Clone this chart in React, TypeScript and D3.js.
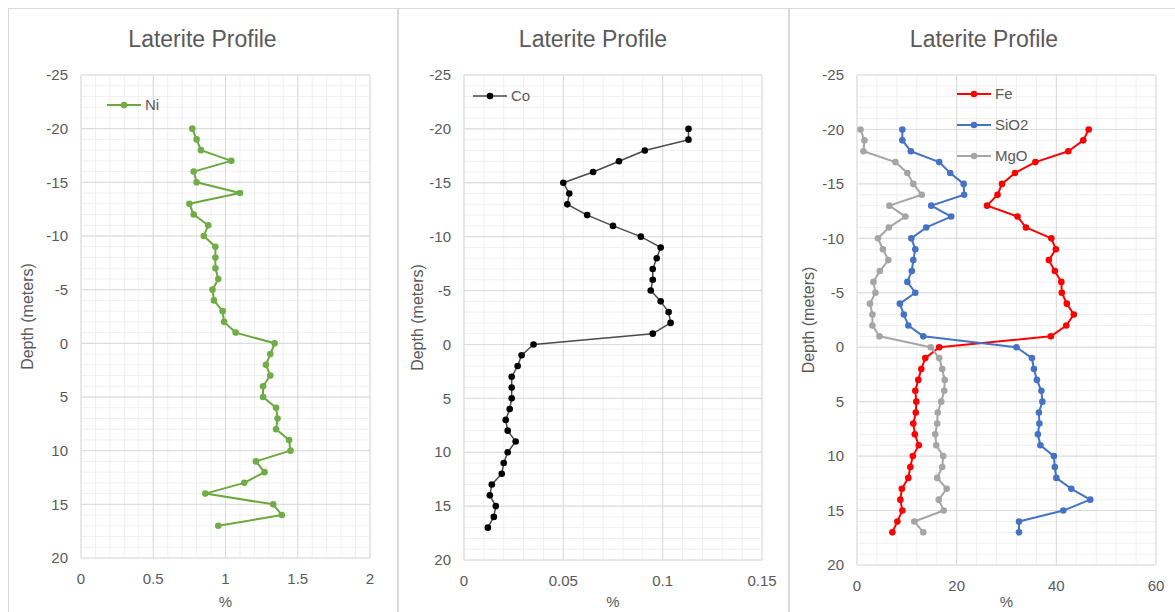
import React from "react";
import * as d3 from "d3";

// depth in meters (negative = above datum)
const depths = [-20, -19, -18, -17, -16, -15, -14, -13, -12, -11, -10, -9, -8, -7, -6, -5, -4, -3, -2, -1, 0, 1, 2, 3, 4, 5, 6, 7, 8, 9, 10, 11, 12, 13, 14, 15, 16, 17];

const ni = [0.77, 0.8, 0.83, 1.04, 0.78, 0.8, 1.1, 0.75, 0.78, 0.88, 0.85, 0.93, 0.93, 0.93, 0.95, 0.91, 0.92, 0.98, 0.99, 1.07, 1.34, 1.31, 1.28, 1.31, 1.26, 1.26, 1.35, 1.36, 1.35, 1.44, 1.45, 1.21, 1.27, 1.13, 0.86, 1.33, 1.39, 0.95];

const co = [0.113, 0.113, 0.091, 0.078, 0.065, 0.05, 0.053, 0.052, 0.062, 0.075, 0.089, 0.099, 0.097, 0.095, 0.095, 0.094, 0.099, 0.103, 0.104, 0.095, 0.035, 0.029, 0.027, 0.024, 0.024, 0.024, 0.023, 0.021, 0.022, 0.026, 0.022, 0.02, 0.019, 0.014, 0.013, 0.016, 0.015, 0.012];

const fe = [46.5, 45.4, 42.4, 35.8, 31.7, 29.1, 28.2, 26.1, 32.2, 33.9, 39.0, 39.9, 38.5, 39.7, 41.0, 41.1, 42.1, 43.5, 42.0, 38.9, 16.5, 13.7, 12.9, 12.3, 11.7, 11.9, 11.8, 11.3, 11.6, 12.4, 11.2, 10.7, 10.3, 9.0, 8.7, 9.1, 8.1, 7.1];
const sio2 = [9.1, 9.1, 10.8, 16.5, 18.7, 21.4, 21.5, 14.9, 18.9, 13.9, 10.9, 11.7, 11.3, 11.0, 10.1, 11.7, 8.6, 9.4, 10.3, 13.3, 32.0, 35.1, 35.5, 36.1, 37.0, 37.2, 36.5, 36.6, 36.3, 36.8, 39.5, 39.7, 40.0, 43.0, 46.8, 41.4, 32.5, 32.5];
const mgo = [0.7, 1.5, 1.3, 7.7, 10.1, 11.3, 13.0, 6.5, 9.7, 6.4, 4.2, 5.2, 6.3, 4.6, 3.3, 3.7, 2.6, 3.1, 3.1, 4.5, 14.8, 16.5, 17.1, 17.6, 17.5, 16.9, 16.2, 16.1, 15.7, 15.9, 17.3, 17.1, 16.1, 18.0, 16.4, 17.4, 11.5, 13.3];

const depthTicks = [-25, -20, -15, -10, -5, 0, 5, 10, 15, 20];

const FONT = "'Liberation Sans', Arial, sans-serif";
const TXT = "#595959";

type Series = { name: string; values: number[]; color: string; line: string; width: number };

type PanelCfg = {
  px: number; // panel left
  pw: number;
  left: number;
  right: number;
  top: number;
  bottom: number;
  xMax: number;
  xTicks: number[];
  xMinor: number;
  series: Series[];
  legendX: number;
  legendY: number;
  legendGap: number;
};

const panels: PanelCfg[] = [
  {
    px: 8, pw: 389, left: 81, right: 370, top: 75, bottom: 558,
    xMax: 2, xTicks: [0, 0.5, 1, 1.5, 2], xMinor: 0.1,
    series: [{ name: "Ni", values: ni, color: "#70ad47", line: "#6aa83e", width: 2 }],
    legendX: 107, legendY: 105, legendGap: 31,
  },
  {
    px: 398, pw: 390, left: 464, right: 762, top: 75, bottom: 560,
    xMax: 0.15, xTicks: [0, 0.05, 0.1, 0.15], xMinor: 0.01,
    series: [{ name: "Co", values: co, color: "#000000", line: "#4a4a4a", width: 1.5 }],
    legendX: 473, legendY: 96, legendGap: 31,
  },
  {
    px: 789, pw: 390, left: 857, right: 1156, top: 75, bottom: 565,
    xMax: 60, xTicks: [0, 20, 40, 60], xMinor: 4,
    series: [
      { name: "Fe", values: fe, color: "#ff0000", line: "#ff0000", width: 2 },
      { name: "SiO2", values: sio2, color: "#4472c4", line: "#4472c4", width: 2 },
      { name: "MgO", values: mgo, color: "#a5a5a5", line: "#a5a5a5", width: 2 },
    ],
    legendX: 957, legendY: 94, legendGap: 31,
  },
];

function Panel({ cfg }: { cfg: PanelCfg }) {
  const x = d3.scaleLinear().domain([0, cfg.xMax]).range([cfg.left, cfg.right]);
  const y = d3.scaleLinear().domain([-25, 20]).range([cfg.top, cfg.bottom]);
  const minorX = d3.range(0, cfg.xMax + 1e-9, cfg.xMinor);
  const minorY = d3.range(-25, 20.001, 1);
  const cx = cfg.px + cfg.pw / 2;
  const midX = (cfg.left + cfg.right) / 2;
  const midY = (cfg.top + cfg.bottom) / 2;

  return (
    <g>
      <rect x={cfg.px + 0.5} y={8.5} width={cfg.pw} height={620} fill="#fff" stroke="#d9d9d9" />
      <text x={cx} y={47} textAnchor="middle" fontSize={23} fill={TXT}>Laterite Profile</text>

      {minorX.map((v, i) => (
        <line key={"mx" + i} x1={x(v)} x2={x(v)} y1={cfg.top} y2={cfg.bottom} stroke="#f0f0f0" />
      ))}
      {minorY.map((v, i) => (
        <line key={"my" + i} x1={cfg.left} x2={cfg.right} y1={y(v)} y2={y(v)} stroke="#f0f0f0" />
      ))}
      {cfg.xTicks.map((v) => (
        <line key={"gx" + v} x1={x(v)} x2={x(v)} y1={cfg.top} y2={cfg.bottom} stroke="#d9d9d9" />
      ))}
      {depthTicks.map((v) => (
        <line key={"gy" + v} x1={cfg.left} x2={cfg.right} y1={y(v)} y2={y(v)} stroke="#d9d9d9" />
      ))}

      {depthTicks.map((v) => (
        <text key={"ty" + v} x={cfg.left - 13} y={y(v)} dy="0.35em" textAnchor="end" fontSize={15} fill={TXT}>
          {v}
        </text>
      ))}
      {cfg.xTicks.map((v) => (
        <text key={"tx" + v} x={x(v)} y={cfg.bottom + 21} dy="0.35em" textAnchor="middle" fontSize={15} fill={TXT}>
          {d3.format("~g")(v)}
        </text>
      ))}
      <text x={midX} y={Math.min(cfg.bottom + 45, 602)} dy="0.35em" textAnchor="middle" fontSize={15} fill={TXT}>%</text>
      <text
        transform={`translate(${cfg.px + 19},${midY}) rotate(-90)`}
        dy="0.35em"
        textAnchor="middle"
        fontSize={16}
        fill={TXT}
      >
        Depth (meters)
      </text>

      {cfg.series.map((s) => {
        const line = d3
          .line<number>()
          .x((v) => x(v))
          .y((_, i) => y(depths[i]));
        return (
          <g key={s.name}>
            <path d={line(s.values) ?? ""} fill="none" stroke={s.line} strokeWidth={s.width} strokeLinejoin="round" />
            {s.values.map((v, i) => (
              <circle key={i} cx={x(v)} cy={y(depths[i])} r={3.3} fill={s.color} />
            ))}
          </g>
        );
      })}

      {cfg.series.map((s, i) => {
        const ly = cfg.legendY + i * cfg.legendGap;
        return (
          <g key={"lg" + s.name}>
            <line x1={cfg.legendX} x2={cfg.legendX + 34} y1={ly} y2={ly} stroke={s.line} strokeWidth={s.width} />
            <circle cx={cfg.legendX + 17} cy={ly} r={3.3} fill={s.color} />
            <text x={cfg.legendX + 38} y={ly} dy="0.35em" fontSize={15} fill={TXT}>{s.name}</text>
          </g>
        );
      })}
    </g>
  );
}

export default function App() {
  return (
    <svg
      width={1175}
      height={612}
      style={{ position: "absolute", left: 0, top: 0, fontFamily: FONT, background: "#fff" }}
    >
      {panels.map((p, i) => (
        <Panel key={i} cfg={p} />
      ))}
    </svg>
  );
}
